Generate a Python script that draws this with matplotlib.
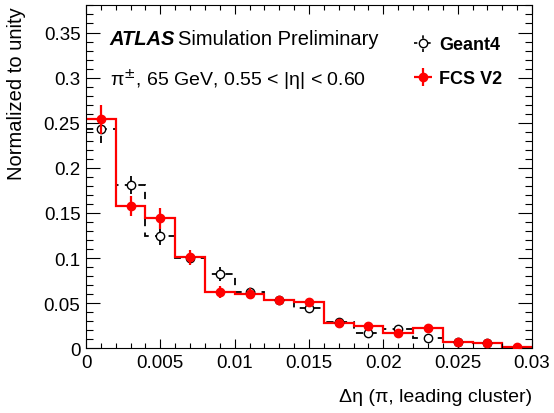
import numpy as np
import matplotlib.pyplot as plt
from matplotlib.ticker import MultipleLocator, FormatStrFormatter

plt.rcParams['font.family'] = ['Liberation Sans', 'DejaVu Sans']

# bin edges of the delta-eta histogram
edges = np.linspace(0.0, 0.03, 16)
centers = 0.5 * (edges[:-1] + edges[1:])

geant4 = [0.243, 0.1815, 0.125, 0.100, 0.0826, 0.062, 0.054, 0.0452,
          0.029, 0.0174, 0.0219, 0.0111, 0.0074, 0.0056, 0.0008]
geant4_err = [0.015, 0.010, 0.010, 0.008, 0.008, 0.006, 0.005, 0.005,
              0.004, 0.003, 0.004, 0.003, 0.003, 0.002, 0.001]
fcs = [0.254, 0.158, 0.144, 0.1008, 0.0626, 0.0605, 0.053, 0.0508,
       0.0278, 0.0248, 0.0170, 0.0222, 0.0074, 0.0056, 0.0015]
fcs_err = [0.016, 0.011, 0.012, 0.008, 0.007, 0.006, 0.005, 0.005,
           0.004, 0.004, 0.003, 0.004, 0.003, 0.002, 0.001]


def main():
  fig = plt.figure(figsize=(5.54, 4.14), dpi=100)
  ax = fig.add_axes([86/554, 1 - 349.3/414, 446/554, 343.3/414])

  # geant4: dashed histogram, open circles
  ax.stairs(geant4, edges, baseline=None, color='black', lw=1.3,
            linestyle=(0, (4, 3.5)))
  g = ax.errorbar(centers, geant4, yerr=geant4_err, fmt='o', mfc='white',
                  mec='black', mew=1.0, ms=6, color='black', elinewidth=1.3,
                  capsize=0, zorder=3)
  g[2][0].set_linestyle((0, (4, 2)))

  # fcs v2: solid red histogram, filled circles
  ax.stairs(fcs, edges, baseline=None, color='#ff0000', lw=1.6)
  ax.errorbar(centers, fcs, yerr=fcs_err, fmt='o', color='#ff0000',
              ms=6, elinewidth=1.6, capsize=0, zorder=4)

  # legend handles
  hg = ax.errorbar([], [], xerr=[], yerr=[], fmt='o', mfc='white', mec='black',
                   ms=6, color='black', elinewidth=1.2, capsize=0)
  hg[2][0].set_linestyle((0, (2, 2)))
  hr = ax.errorbar([], [], xerr=[], yerr=[], fmt='o', color='#ff0000',
                   ms=6, elinewidth=1.6, capsize=0)
  ax.legend([hg, hr], ['Geant4', 'FCS V2'], loc='center left',
            bbox_to_anchor=(0.699, 0.835), frameon=False,
            prop={'weight': 'bold', 'size': 13}, handlelength=1.1,
            handletextpad=0.34, labelspacing=0.92, borderpad=0.34)

  ax.set_xlim(0, 0.03)
  ax.set_ylim(0, 0.3805)
  ax.xaxis.set_major_locator(MultipleLocator(0.005))
  ax.xaxis.set_minor_locator(MultipleLocator(0.001))
  ax.yaxis.set_major_locator(MultipleLocator(0.05))
  ax.yaxis.set_minor_locator(MultipleLocator(0.01))
  ax.xaxis.set_major_formatter(FormatStrFormatter('%g'))
  ax.yaxis.set_major_formatter(FormatStrFormatter('%g'))
  ax.tick_params(which='both', direction='in', top=True, right=True,
                 labelsize=13.5, width=0.8)
  ax.tick_params(axis='y', which='major', length=10, pad=4)
  ax.tick_params(axis='y', which='minor', length=5)
  ax.tick_params(axis='x', which='major', length=6.5, pad=4)
  ax.tick_params(axis='x', which='minor', length=3.6)

  ax.set_ylabel('Normalized to unity', fontsize=14.5, loc='top')
  ax.yaxis.set_label_coords(-0.134, 0.995)
  ax.set_xlabel('\u0394\u03b7 (\u03c0, leading cluster)', fontsize=14,
                loc='right')
  ax.xaxis.set_label_coords(1.0, -0.115)

  ax.text(0.053, 0.886, 'ATLAS', transform=ax.transAxes, fontsize=14.5,
          fontweight='bold', fontstyle='italic')
  ax.text(0.207, 0.886, 'Simulation Preliminary', transform=ax.transAxes,
          fontsize=14.5)
  ax.text(0.053, 0.767, '\u03c0$^{\\pm}$, 65 GeV, 0.55 < |\u03b7| < 0.60',
          transform=ax.transAxes, fontsize=14)

  plt.savefig('out.png', dpi=100)


if __name__ == "__main__":
  main()
